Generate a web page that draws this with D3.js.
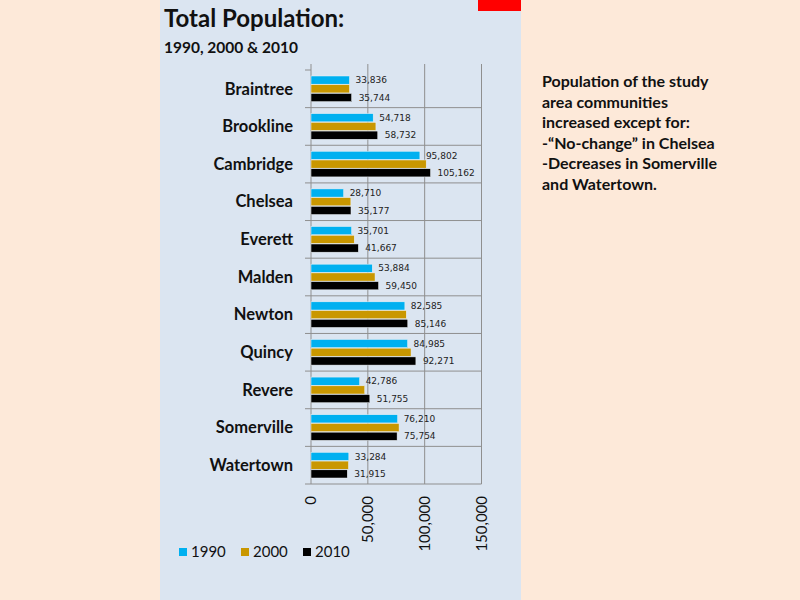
<!DOCTYPE html>
<html>
<head>
<meta charset="utf-8">
<script src="https://cdn.jsdelivr.net/npm/d3@7"></script>
<style>
  body { margin: 0; background: #fde9d9; }
  svg { display: block; }
</style>
</head>
<body>
<svg id="chart" width="800" height="600"></svg>
<script>
// city names, top to bottom
const towns = ["Braintree", "Brookline", "Cambridge", "Chelsea", "Everett", "Malden",
  "Newton", "Quincy", "Revere", "Somerville", "Watertown"]
const years = ["1990", "2000", "2010"]
const pop1990 = [33836, 54718, 95802, 28710, 35701, 53884, 82585, 84985, 42786, 76210, 33284]
const pop2000 = [33828, 57107, 101355, 35080, 38037, 56340, 83829, 88025, 47283, 77478, 32986]
const pop2010 = [35744, 58732, 105162, 35177, 41667, 59450, 85146, 92271, 51755, 75754, 31915]
const xTicks = [0, 50000, 100000, 150000]
const colors = ["#00b0f0", "#c99700", "#000000"]
const notes = ["Population of the study", "area communities", "increased except for:",
  "-\u201cNo-change\u201d  in Chelsea", "-Decreases in Somerville", "and Watertown."]

const rows = towns.map((t, i) => ({ town: t, values: [pop1990[i], pop2000[i], pop2010[i]] }))

const svg = d3.select("#chart")
const font = "Lato, 'Open Sans', sans-serif"

// blue slide panel + the little red box
svg.append("rect").attr("x", 160).attr("y", 0).attr("width", 361).attr("height", 600).attr("fill", "#dbe5f1")
svg.append("rect").attr("x", 478).attr("y", 0).attr("width", 43).attr("height", 11).attr("fill", "#ff0000")

svg.append("text").attr("x", 164).attr("y", 27)
  .attr("font-family", font).attr("font-weight", "bold").attr("font-size", 24).attr("fill", "#111")
  .text("Total Population:")
svg.append("text").attr("x", 164).attr("y", 53)
  .attr("font-family", font).attr("font-weight", "bold").attr("font-size", 15.5).attr("fill", "#111")
  .text("1990, 2000 & 2010")

// scales
const x = d3.scaleLinear().domain([0, 150000]).range([311, 481.5])
const y = d3.scaleBand().domain(towns).range([70, 484]).padding(0)
const inner = d3.scaleBand().domain(years).range([6, y.bandwidth() - 6]).paddingInner(0.06)

// grid
const grid = svg.append("g").attr("stroke", "#8f8f8f").attr("stroke-width", 1)
grid.selectAll("line.v").data(xTicks).join("line").attr("class", "v")
  .attr("x1", d => x(d)).attr("x2", d => x(d)).attr("y1", 64).attr("y2", 484)
grid.selectAll("line.h").data(towns.slice(1).concat(["end"])).join("line").attr("class", "h")
  .attr("x1", x(0)).attr("x2", x(150000))
  .attr("y1", (d, i) => y(towns[0]) + y.step() * (i + 1))
  .attr("y2", (d, i) => y(towns[0]) + y.step() * (i + 1))
grid.selectAll("line.t").data(d3.range(towns.length + 1)).join("line").attr("class", "t")
  .attr("x1", x(0) - 6).attr("x2", x(0))
  .attr("y1", d => 70 + y.step() * d).attr("y2", d => 70 + y.step() * d)

// bars
const groups = svg.selectAll("g.town").data(rows).join("g").attr("class", "town")
  .attr("transform", d => `translate(0,${y(d.town)})`)

groups.selectAll("rect").data(d => d.values).join("rect")
  .attr("x", x(0))
  .attr("y", (d, i) => inner(years[i]))
  .attr("width", d => x(d) - x(0))
  .attr("height", inner.bandwidth())
  .attr("fill", (d, i) => colors[i])
  .attr("stroke", "#eef3f8").attr("stroke-width", 0.5)

// value labels for 1990 and 2010 only
groups.selectAll("text.val").data(d => [0, 2].map(i => ({ i, v: d.values[i] }))).join("text")
  .attr("class", "val")
  .attr("x", d => x(d.v) + (d.i === 0 ? 6 : 7))
  .attr("y", d => inner(years[d.i]) + inner.bandwidth() / 2)
  .attr("dy", "0.35em")
  .attr("font-family", "'DejaVu Sans', sans-serif").attr("font-size", 9).attr("fill", "#222")
  .text(d => d3.format(",")(d.v))

// town names
groups.append("text")
  .attr("x", 293).attr("y", y.bandwidth() / 2).attr("dy", "0.35em")
  .attr("text-anchor", "end")
  .attr("font-family", font).attr("font-weight", "bold").attr("font-size", 16.5).attr("fill", "#111")
  .text(d => d.town)

// rotated x tick labels
svg.selectAll("text.tick").data(xTicks).join("text").attr("class", "tick")
  .attr("transform", d => `translate(${x(d) + 5},496) rotate(-90)`)
  .attr("text-anchor", "end")
  .attr("font-family", font).attr("font-size", 15).attr("fill", "#111")
  .text(d => d3.format(",")(d))

// legend
const legend = svg.selectAll("g.leg").data(years).join("g").attr("class", "leg")
  .attr("transform", (d, i) => `translate(${[179, 241, 303][i]},548)`)
legend.append("rect").attr("width", 8).attr("height", 8).attr("fill", (d, i) => colors[i])
legend.append("text").attr("x", 12).attr("y", 4).attr("dy", "0.35em")
  .attr("font-family", font).attr("font-size", 15).attr("fill", "#111")
  .text(d => d)

// side note
svg.append("text").attr("font-family", font).attr("font-weight", "bold").attr("font-size", 16).attr("fill", "#111")
  .selectAll("tspan").data(notes).join("tspan")
  .attr("x", 542).attr("y", (d, i) => 87 + i * 20.5)
  .text(d => d)
</script>
</body>
</html>
